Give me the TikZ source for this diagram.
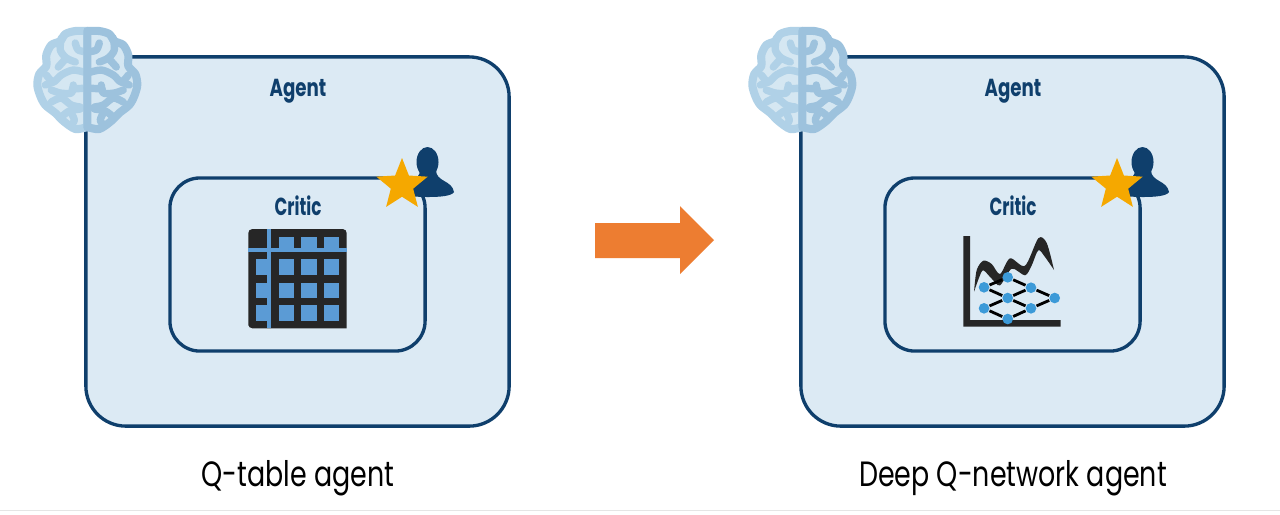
\documentclass[tikz,border=0pt]{standalone}
\usepackage{fontspec}
\setmainfont{Poppins}
\usetikzlibrary{shapes.geometric}
\definecolor{navy}{HTML}{0F3F6C}
\definecolor{panel}{HTML}{DCEAF4}
\definecolor{lobeL}{HTML}{B0D1E7}
\definecolor{lobeR}{HTML}{9DC2DD}
\definecolor{lobein}{HTML}{D5E7F2}
\definecolor{ink}{HTML}{262626}
\definecolor{cell}{HTML}{5B9BD5}
\definecolor{neuron}{HTML}{3C9AD8}
\definecolor{gold}{HTML}{F5A800}
\definecolor{orangearrow}{HTML}{ED7D31}
\begin{document}
\begin{tikzpicture}[
  x=0.01cm,y=-0.01cm,
  box/.style={draw=navy,line width=0.95pt,fill=panel,inner sep=0pt},
  head/.style={font=\fontsize{7}{8}\selectfont\bfseries,text=navy,inner sep=0pt,xscale=0.74,transform shape},
  caption/.style={font=\fontsize{10}{12}\selectfont,text=black,inner sep=0pt,xscale=0.765,transform shape},
  fold/.style={line width=2.1pt,line cap=round,line join=round},
  neuronnode/.style={circle,fill=neuron,minimum size=0.106cm,inner sep=0pt},
  pics/brainhalf/.style={code={
    \draw[draw=#1,fill=lobein,line width=2.3pt,line join=round]
      plot[smooth] coordinates {(0,-49) (-12,-49) (-22,-46) (-27,-39) (-36,-35) (-41,-25)
        (-41,-14) (-48,-6) (-50,5) (-47,16) (-42,25) (-32,33) (-24,41) (-12,49) (0,47)} -- cycle;
    \draw[fold,draw=#1] plot[smooth] coordinates {(-26,-42) (-27,-30) (-21,-22) (-12,-18)};
    \draw[fold,draw=#1] (-21,-22) -- (-29,-13);
    \draw[fold,draw=#1] plot[smooth] coordinates {(0,-28) (-9,-30) (-12,-37)};
    \draw[fold,draw=#1] plot[smooth] coordinates {(0,-7) (-14,-10) (-26,-5) (-34,2) (-41,-5)};
    \draw[fold,draw=#1] (-34,2) -- (-42,5);
    \draw[fold,draw=#1] plot[smooth] coordinates {(-14,5) (-16,13) (-27,13) (-36,10)};
    \draw[fold,draw=#1] (-15,9) -- (0,8);
    \draw[fold,draw=#1] plot[smooth] coordinates {(-36,22) (-26,18) (-16,25) (-7,27)};
    \draw[fold,draw=#1] plot[smooth] coordinates {(-7,29) (-18,31) (-26,37)};
    \draw[fold,draw=#1] plot[smooth] coordinates {(-16,33) (-13,40) (-16,45)};
    \draw[fold,draw=#1,line cap=butt] (0,-52) -- (0,50);
  }},
  agentpanel/.pic={
    \node[box,rounded corners=0.4cm,minimum width=4.23cm,minimum height=3.69cm]
      (agentbox) at (297.5,241.5) {};
    \node[head] (agent) at (298,91) {Agent};
    \pic at (87.3,80) {brainhalf=lobeL};
    \pic[xscale=-1] at (87.3,80) {brainhalf=lobeR};
    \node[box,rounded corners=0.3cm,minimum width=2.55cm,minimum height=1.73cm]
      (criticbox) at (297.5,264.5) {};
    \node[head,xscale=0.92] (critic) at (298,206) {Critic};
    \fill[navy] (427.5,162) ellipse [x radius=0.11cm,y radius=0.15cm];
    \fill[navy] (436,170) .. controls (436,182) and (452,180) .. (454,192)
      .. controls (452,196) and (440,197) .. (428,197)
      .. controls (416,197) and (404,196) .. (402,192)
      .. controls (404,180) and (420,182) .. (420,170) -- cycle;
    \node[star,star points=5,star point ratio=2.3,fill=gold,minimum size=0.54cm,inner sep=0pt]
      (badge) at (402,185) {};
  }
]
  \useasboundingbox (0,0) rectangle (1280,514);
  \fill[white] (0,0) rectangle (1280,514);
  \fill[black!10] (0,510) rectangle (1280,511);

  \pic (left) at (0,0) {agentpanel};
  \pic (right) at (715,0) {agentpanel};

  \fill[orangearrow] (595,223) -- (680,223) -- (680,206) -- (714,240) -- (680,274)
    -- (680,258) -- (595,258) -- cycle;

  \node[caption] (qcap) at (298,478) {Q-table agent};
  \node[caption] (dcap) at (1013,478) {Deep Q-network agent};

  \fill[ink,rounded corners=0.04cm] (248.3,328.3) -- (248.3,229) -- (346.7,229)
    -- (346.7,300) [sharp corners] -- (346.7,328.3) -- (300,328.3) [rounded corners=0.04cm] -- (248.3,328.3) -- cycle;
  \fill[cell] (267.3,229) rectangle (271,328.3);
  \fill[cell] (248.3,248.3) rectangle (346.7,252);
  \foreach \colx in {278.7,301.3,324} {
    \fill[cell] (\colx,237.3) rectangle ++(15.3,11);
    \foreach \rowy in {259.3,282.7,305}
      \fill[cell] (\colx,\rowy) rectangle ++(15.3,15.5);
  }
  \foreach \rowy in {259.3,282.7,305}
    \fill[cell] (256,\rowy) rectangle ++(11.3,15.5);

  \fill[ink] (963.3,236) -- (970,236) -- (970,320) -- (1060.7,320) -- (1060.7,326.7) -- (963.3,326.7) -- cycle;
  \fill[ink] plot[smooth] coordinates {(974,291.7) (976.7,270) (983.3,260.7) (991.7,264) (1000,274)
      (1010,258.3) (1025,265.7) (1038.3,238.3) (1046.7,243) (1054,270)}
    -- plot[smooth] coordinates {(1054,270) (1045,257) (1038.3,250.3) (1031.7,265.3) (1025,275.3)
      (1011.7,268.7) (1000,285.3) (991.7,278.7) (983.3,270.3) (979.3,277) (974,291.7)} -- cycle;

  \node[neuronnode] (n1) at (984,287.3) {};
  \node[neuronnode] (n2) at (984,308.3) {};
  \node[neuronnode] (n3) at (1007.7,277.3) {};
  \node[neuronnode] (n4) at (1007.7,298) {};
  \node[neuronnode] (n5) at (1007.7,319) {};
  \node[neuronnode] (n6) at (1031,287.7) {};
  \node[neuronnode] (n7) at (1031,308.3) {};
  \node[neuronnode] (n8) at (1054.7,298) {};
  \foreach \a/\b in {n1/n3,n1/n4,n2/n4,n2/n5,n3/n6,n4/n6,n4/n7,n5/n7,n6/n8,n7/n8}
    \draw[black,line width=0.8pt] (\a) -- (\b);
\end{tikzpicture}
\end{document}
